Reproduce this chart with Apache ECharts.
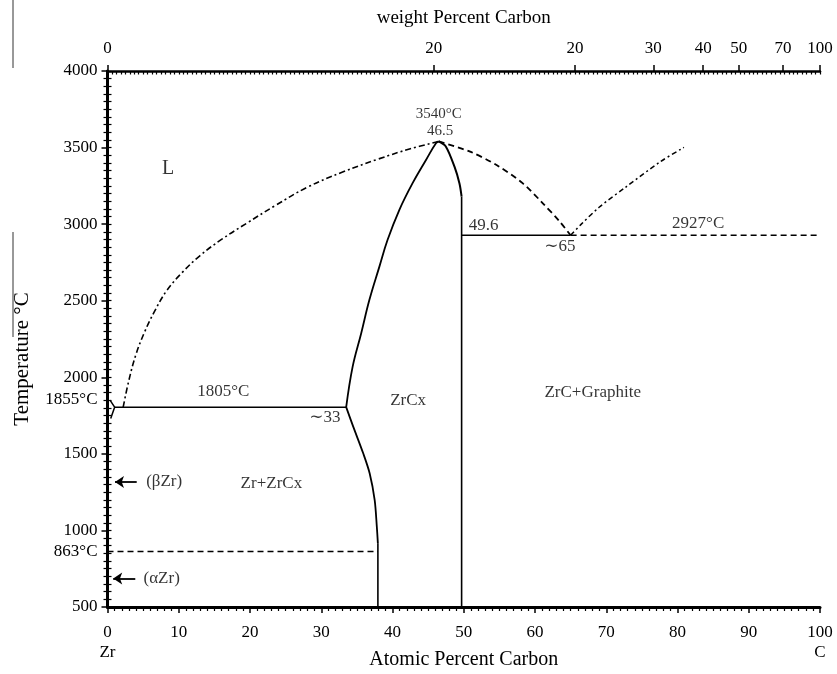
<!DOCTYPE html>
<html>
<head>
<meta charset="utf-8">
<script src="https://cdn.jsdelivr.net/npm/echarts@6/dist/echarts.min.js"></script>
<style>
html,body{margin:0;padding:0;background:#fff;}
#chart{width:837px;height:674px;}
</style>
</head>
<body>
<div id="chart"></div>
<script>
// ---- Axis tick labels ----
const weightPctPositions = [0, 45.8, 65.6, 76.6, 83.6, 88.6, 94.8, 100];
const weightPctLabels = ['0', '20', '20', '30', '40', '50', '70', '100'];
const tempLabelValues = [500, 863, 1000, 1500, 1855, 2000, 2500, 3000, 3500, 4000];
const tempLabelTexts = ['500', '863°C', '1000', '1500', '1855°C', '2000', '2500', '3000', '3500', '4000'];
const atomicLabelValues = [0, 10, 20, 30, 40, 50, 60, 70, 80, 90, 100];
const atomicLabelTexts = ['0\nZr', '10', '20', '30', '40', '50', '60', '70', '80', '90', '100\nC'];

// ---- Phase boundaries [atomic % C, temperature °C] ----
const liquidusZr = [[2.2,1805],[3.0,1980],[4.0,2150],[5.2,2295],[6.6,2430],[8.3,2565],[10.5,2685],[13.0,2795],[16.0,2900],[19.5,3005],[23.5,3120],[28.0,3240],[33.0,3340],[38.0,3425],[42.5,3492],[46.5,3540]];
const zrcxLeft = [[33.5,1805],[34.4,2068],[35.6,2286],[36.75,2504],[38.15,2721],[39.3,2896],[40.95,3092],[42.8,3266],[44.7,3419],[46.1,3528],[46.5,3540]];
const zrcxRight = [[46.5,3540],[47.5,3506],[48.7,3375],[49.4,3266],[49.7,3179]];
const zrcxRightVertical = [[49.7,3179],[49.7,500]];
const liquidusZrC = [[46.5,3540],[50.9,3473],[54.6,3386],[58.3,3266],[61.1,3136],[63.5,3015],[65,2927]];
const liquidusC = [[65,2927],[66.5,3000],[69,3110],[72.8,3244],[77.6,3408],[80.9,3501]];
const eutecticSolid = [[49.7,2927],[65,2927]];
const eutecticDashed = [[65,2927],[100,2927]];
const eutectic1805 = [[1.0,1805],[33.5,1805]];
const betaSolvus = [[0.35,1851],[1.0,1805],[0.45,1731]];
const zrcxSolvus = [[33.5,1805],[34.5,1676],[35.9,1502],[36.8,1372],[37.5,1198],[37.8,1024],[37.95,914]];
const zrcxSolvusVertical = [[37.95,914],[37.95,500]];
const alphaBeta = [[0,863],[37.95,863]];

// ---- Annotations ----
const noteTexts = ['L', '3540°C', '46.5', '49.6', '∼65', '2927°C', '1805°C', '∼33', 'ZrCx', 'ZrC+Graphite', 'Zr+ZrCx', '(βZr)', '(αZr)'];
const noteX =     [8.5, 46.5, 46.7, 52.8, 63.5, 82.9, 16.25, 30.5, 42.2, 68.1, 23.0, 7.95, 7.6];
const noteY =     [3364, 3719, 3610, 2994, 2852, 3005, 1905, 1737, 1850, 1898, 1306, 1317, 686];
const noteSizes = [20, 15, 15, 17, 17, 17, 17, 17, 17, 17, 17, 17, 17];
const arrowFrom = [[4.1,1317],[3.9,686]];
const arrowTo =   [[1.05,1317],[0.8,686]];

const FONT = '"Liberation Serif", "DejaVu Serif", serif';
const chart = echarts.init(document.getElementById('chart'));

function lineSeries(data, type, width, smooth) {
  return {
    type: 'line', data: data, showSymbol: false, symbol: 'none', smooth: smooth || false,
    silent: true, animation: false, clip: false,
    lineStyle: { color: '#000', width: width, type: type }
  };
}

const option = {
  animation: false,
  backgroundColor: '#fff',
  grid: { left: 107.5, right: 17, top: 71, bottom: 67, containLabel: false, outerBoundsMode: 'none' },
  xAxis: [
    {
      type: 'value', position: 'bottom', min: 0, max: 100, interval: 10,
      name: 'Atomic Percent Carbon', nameLocation: 'middle', nameGap: 43, nameMoveOverlap: false,
      nameTextStyle: { fontFamily: FONT, fontSize: 20, color: '#000' },
      axisLine: { lineStyle: { color: '#000', width: 3 } },
      axisTick: { inside: false, length: 6, lineStyle: { color: '#000', width: 1.5 } },
      minorTick: { show: true, splitNumber: 10, length: 4, lineStyle: { color: '#000', width: 1.2 } },
      axisLabel: {
        margin: 16, fontFamily: FONT, fontSize: 17, color: '#000', lineHeight: 20,
        customValues: atomicLabelValues,
        formatter: v => atomicLabelTexts[atomicLabelValues.indexOf(v)] || ''
      },
      splitLine: { show: false }
    },
    {
      type: 'value', position: 'top', min: 0, max: 100,
      name: 'weight Percent Carbon', nameLocation: 'middle', nameGap: 43, nameMoveOverlap: false,
      nameTextStyle: { fontFamily: FONT, fontSize: 19, color: '#000' },
      axisLine: { lineStyle: { color: '#000', width: 2.5 } },
      axisTick: { inside: false, length: 6, customValues: weightPctPositions, lineStyle: { color: '#000', width: 1.5 } },
      axisLabel: {
        margin: 14, fontFamily: FONT, fontSize: 17, color: '#000',
        customValues: weightPctPositions,
        formatter: v => { const i = weightPctPositions.indexOf(v); return i >= 0 ? weightPctLabels[i] : ''; }
      },
      splitLine: { show: false }
    },
    {
      type: 'value', position: 'top', min: 0, max: 100, interval: 0.625,
      axisLine: { show: false },
      axisTick: { inside: true, length: 3.5, lineStyle: { color: '#000', width: 1.2 } },
      axisLabel: { show: false },
      splitLine: { show: false }
    }
  ],
  yAxis: [
    {
      type: 'value', position: 'left', min: 500, max: 4000, interval: 500,
      name: 'Temperature °C', nameLocation: 'middle', nameGap: 75, nameMoveOverlap: false,
      nameTextStyle: { fontFamily: FONT, fontSize: 21, color: '#000', padding: [0, 40, 0, 0] },
      axisLine: { lineStyle: { color: '#000', width: 3 } },
      axisTick: { inside: false, length: 6, lineStyle: { color: '#000', width: 1.5 } },
      minorTick: { show: true, splitNumber: 10, length: 4, lineStyle: { color: '#000', width: 1.2 } },
      axisLabel: {
        margin: 10, fontFamily: FONT, fontSize: 17, color: '#000',
        customValues: tempLabelValues,
        formatter: v => { const i = tempLabelValues.indexOf(v); return i >= 0 ? tempLabelTexts[i] : ''; }
      },
      splitLine: { show: false }
    },
    {
      type: 'value', position: 'right', min: 500, max: 4000, interval: 50,
      axisLine: { lineStyle: { color: '#000', width: 2.5 } },
      axisTick: { inside: false, length: 4, lineStyle: { color: '#000', width: 1.2 } },
      axisLabel: { show: false },
      splitLine: { show: false }
    }
  ],
  graphic: [
    { type: 'line', shape: { x1: 13, y1: 0, x2: 13, y2: 68 }, style: { stroke: '#333', lineWidth: 1 } },
    { type: 'line', shape: { x1: 13, y1: 232, x2: 13, y2: 337 }, style: { stroke: '#333', lineWidth: 1 } }
  ],
  series: [
    lineSeries(liquidusZr, [6, 3, 2, 3], 1.6, 0.4),
    lineSeries(zrcxLeft, 'solid', 1.8, 0.4),
    lineSeries(zrcxRight, 'solid', 2, 0.3),
    lineSeries(zrcxRightVertical, 'solid', 1.6),
    lineSeries(liquidusZrC, [6, 4], 1.8, 0.3),
    lineSeries(liquidusC, [5, 3, 2, 3], 1.5, 0.3),
    lineSeries(eutecticSolid, 'solid', 1.5),
    lineSeries(eutecticDashed, [6, 4], 1.5),
    lineSeries(eutectic1805, 'solid', 1.5),
    lineSeries(betaSolvus, 'solid', 1.5),
    lineSeries(zrcxSolvus, 'solid', 1.8, 0.3),
    lineSeries(zrcxSolvusVertical, 'solid', 1.6),
    lineSeries(alphaBeta, [6, 4], 1.5),
    {
      type: 'lines', coordinateSystem: 'cartesian2d', silent: true, animation: false,
      symbol: ['none', 'arrow'], symbolSize: 9,
      lineStyle: { color: '#000', width: 1.8, opacity: 1 },
      data: arrowFrom.map((p, i) => ({ coords: [p, arrowTo[i]] }))
    },
    {
      type: 'scatter', silent: true, animation: false, clip: false,
      symbolSize: 0,
      data: noteTexts.map((t, i) => ({ value: [noteX[i], noteY[i]], name: t, label: { fontSize: noteSizes[i] } })),
      label: {
        show: true, position: 'inside', color: '#000', fontFamily: FONT,
        formatter: p => p.name
      }
    }
  ]
};
chart.setOption(option);
</script>
</body>
</html>
